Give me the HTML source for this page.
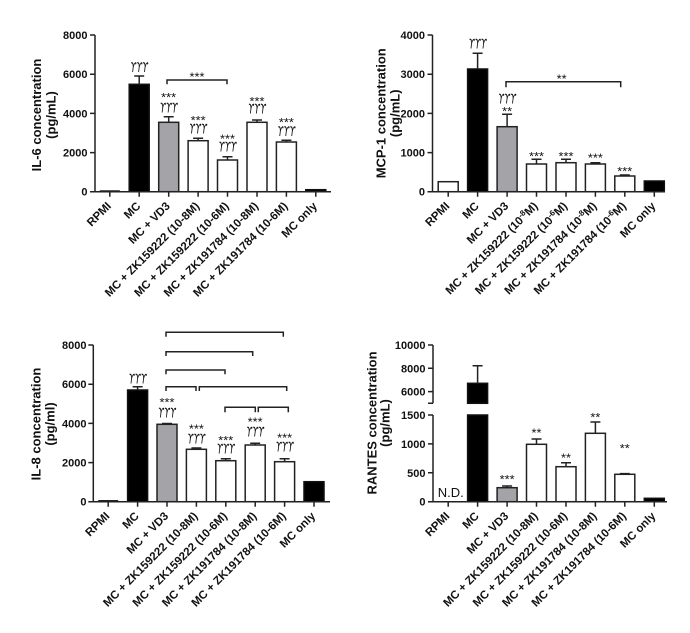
<!DOCTYPE html>
<html><head><meta charset="utf-8"><style>
html,body{margin:0;padding:0;background:#fff;}
svg{display:block;}
.t{font-family:"Liberation Sans",Arial,sans-serif;font-weight:bold;fill:#111;}
.tk{font-size:11px;text-anchor:end;}
.xl{font-size:11.5px;text-anchor:end;}
.yt{font-size:13px;text-anchor:middle;}
.ast{font-family:"Liberation Sans",Arial,sans-serif;font-size:12px;text-anchor:middle;fill:#111;}
.gm{font-family:"DejaVu Sans","Liberation Serif",serif;font-style:italic;font-size:13px;text-anchor:middle;fill:#111;}
.ln{stroke:#222;stroke-width:1.5;fill:none;}
.w{fill:#fff;stroke:#222;stroke-width:1.5;}
.k{fill:#000;stroke:#111;stroke-width:1.5;}
.g{fill:#a4a4a8;stroke:#222;stroke-width:1.5;}
</style></head><body>
<svg width="690" height="633" viewBox="0 0 690 633" xmlns="http://www.w3.org/2000/svg">
<rect width="690" height="633" fill="#fff"/>

<!-- ================= PANEL 1: IL-6 ================= -->
<g>
<rect class="k" x="129.2" y="84.3" width="20" height="107.4"/>
<rect class="g" x="158.7" y="122.3" width="20" height="69.4"/>
<rect class="w" x="188.1" y="140.7" width="20" height="51"/>
<rect class="w" x="217.5" y="160" width="20" height="31.7"/>
<rect class="w" x="247" y="122.3" width="20" height="69.4"/>
<rect class="w" x="276.4" y="142" width="20" height="49.7"/>
<rect class="k" x="305.8" y="189.7" width="20" height="2"/>
<line class="ln" x1="99.8" y1="191" x2="119.8" y2="191"/>
<path class="ln" d="M139.2 84.3V76M134.2 76H144.2 M168.7 122.3V116.7M163.7 116.7H173.7 M198.1 140.7V138.3M193.1 138.3H203.1 M227.5 160V156.7M222.5 156.7H232.5 M257 122.3V120M252 120H262 M286.4 142V140.3M281.4 140.3H291.4"/>
<path class="ln" d="M95 35V192.4 M94.3 191.7H331 M90 35H95 M90 74.2H95 M90 113.4H95 M90 152.6H95 M90 191.7H95 M109.8 191.7v5 M139.2 191.7v5 M168.7 191.7v5 M198.1 191.7v5 M227.5 191.7v5 M257 191.7v5 M286.4 191.7v5 M315.8 191.7v5"/>
<text class="t tk" x="87.5" y="39">8000</text>
<text class="t tk" x="87.5" y="78.2">6000</text>
<text class="t tk" x="87.5" y="117.4">4000</text>
<text class="t tk" x="87.5" y="156.6">2000</text>
<text class="t tk" x="87.5" y="195.7">0</text>
<text class="t yt" transform="translate(41,115) rotate(-90)">IL-6 concentration</text>
<text class="t yt" transform="translate(55.5,115) rotate(-90)">(pg/mL)</text>
<path class="ln" d="M167 84.3V80H227V84.3"/>
<text class="ast" x="197" y="81" textLength="15" lengthAdjust="spacingAndGlyphs">***</text>
<text class="gm" x="139.2" y="72" textLength="18" lengthAdjust="spacingAndGlyphs">ϒϒϒ</text>
<text class="ast" x="168.7" y="101.3" textLength="15" lengthAdjust="spacingAndGlyphs">***</text>
<text class="gm" x="168.7" y="112.3" textLength="18" lengthAdjust="spacingAndGlyphs">ϒϒϒ</text>
<text class="ast" x="198.1" y="124.7" textLength="15" lengthAdjust="spacingAndGlyphs">***</text>
<text class="gm" x="198.1" y="133.3" textLength="18" lengthAdjust="spacingAndGlyphs">ϒϒϒ</text>
<text class="ast" x="227.5" y="143" textLength="15" lengthAdjust="spacingAndGlyphs">***</text>
<text class="gm" x="227.5" y="151.7" textLength="18" lengthAdjust="spacingAndGlyphs">ϒϒϒ</text>
<text class="ast" x="257" y="105.3" textLength="15" lengthAdjust="spacingAndGlyphs">***</text>
<text class="gm" x="257" y="113.7" textLength="18" lengthAdjust="spacingAndGlyphs">ϒϒϒ</text>
<text class="ast" x="286.4" y="126.3" textLength="15" lengthAdjust="spacingAndGlyphs">***</text>
<text class="gm" x="286.4" y="136" textLength="18" lengthAdjust="spacingAndGlyphs">ϒϒϒ</text>
<text class="t xl" transform="translate(111.8,206.7) rotate(-45)">RPMI</text>
<text class="t xl" transform="translate(141.2,206.7) rotate(-45)">MC</text>
<text class="t xl" transform="translate(170.7,206.7) rotate(-45)">MC + VD3</text>
<text class="t xl" transform="translate(200.1,206.7) rotate(-45)">MC + ZK159222 (10-8M)</text>
<text class="t xl" transform="translate(229.5,206.7) rotate(-45)">MC + ZK159222 (10-6M)</text>
<text class="t xl" transform="translate(259,206.7) rotate(-45)">MC + ZK191784 (10-8M)</text>
<text class="t xl" transform="translate(288.4,206.7) rotate(-45)">MC + ZK191784 (10-6M)</text>
<text class="t xl" transform="translate(317.8,206.7) rotate(-45)">MC only</text>
</g>

<!-- ================= PANEL 2: MCP-1 ================= -->
<g>
<rect class="w" x="438.2" y="181.7" width="20" height="10"/>
<rect class="k" x="467.6" y="69" width="20" height="122.7"/>
<rect class="g" x="497.1" y="126.7" width="20" height="65"/>
<rect class="w" x="526.5" y="164" width="20" height="27.7"/>
<rect class="w" x="556" y="162.7" width="20" height="29"/>
<rect class="w" x="585.4" y="164" width="20" height="27.7"/>
<rect class="w" x="614.8" y="176" width="20" height="15.7"/>
<rect class="k" x="644.3" y="181" width="20" height="10.7"/>
<path class="ln" d="M477.6 69V53.3M472.6 53.3H482.6 M507.1 126.7V114.3M502.1 114.3H512.1 M536.5 164V159.3M531.5 159.3H541.5 M566 162.7V159.3M561 159.3H571 M595.4 164V162.7M590.4 162.7H600.4 M624.8 176V175M619.8 175H629.8"/>
<path class="ln" d="M432.5 35V192.4 M431.8 191.7H665 M427.5 35H432.5 M427.5 74.2H432.5 M427.5 113.4H432.5 M427.5 152.6H432.5 M427.5 191.7H432.5 M448.2 191.7v5 M477.6 191.7v5 M507.1 191.7v5 M536.5 191.7v5 M566 191.7v5 M595.4 191.7v5 M624.8 191.7v5 M654.3 191.7v5"/>
<text class="t tk" x="425" y="39">4000</text>
<text class="t tk" x="425" y="78.2">3000</text>
<text class="t tk" x="425" y="117.4">2000</text>
<text class="t tk" x="425" y="156.6">1000</text>
<text class="t tk" x="425" y="195.7">0</text>
<text class="t yt" transform="translate(385.5,113.3) rotate(-90)">MCP-1 concentration</text>
<text class="t yt" transform="translate(399.5,113.3) rotate(-90)">(pg/mL)</text>
<path class="ln" d="M506 87.3V81.7H620.7V87.3"/>
<text class="ast" x="561.7" y="83" textLength="10" lengthAdjust="spacingAndGlyphs">**</text>
<text class="gm" x="477.6" y="48.3" textLength="18" lengthAdjust="spacingAndGlyphs">ϒϒϒ</text>
<text class="gm" x="507.1" y="103.3" textLength="18" lengthAdjust="spacingAndGlyphs">ϒϒϒ</text>
<text class="ast" x="507.1" y="115.3" textLength="10" lengthAdjust="spacingAndGlyphs">**</text>
<text class="ast" x="536.5" y="160.3" textLength="15" lengthAdjust="spacingAndGlyphs">***</text>
<text class="ast" x="566" y="160.3" textLength="15" lengthAdjust="spacingAndGlyphs">***</text>
<text class="ast" x="595.4" y="162" textLength="15" lengthAdjust="spacingAndGlyphs">***</text>
<text class="ast" x="624.8" y="175.3" textLength="15" lengthAdjust="spacingAndGlyphs">***</text>
<text class="t xl" transform="translate(450.2,206.7) rotate(-45)">RPMI</text>
<text class="t xl" transform="translate(479.6,206.7) rotate(-45)">MC</text>
<text class="t xl" transform="translate(509.1,206.7) rotate(-45)">MC + VD3</text>
<text class="t xl" transform="translate(538.5,206.7) rotate(-45)">MC + ZK159222 (10<tspan dy="-4" font-size="8">-8</tspan><tspan dy="4">M)</tspan></text>
<text class="t xl" transform="translate(568,206.7) rotate(-45)">MC + ZK159222 (10<tspan dy="-4" font-size="8">-6</tspan><tspan dy="4">M)</tspan></text>
<text class="t xl" transform="translate(597.4,206.7) rotate(-45)">MC + ZK191784 (10<tspan dy="-4" font-size="8">-8</tspan><tspan dy="4">M)</tspan></text>
<text class="t xl" transform="translate(626.8,206.7) rotate(-45)">MC + ZK191784 (10<tspan dy="-4" font-size="8">-6</tspan><tspan dy="4">M)</tspan></text>
<text class="t xl" transform="translate(656.3,206.7) rotate(-45)">MC only</text>
</g>

<!-- ================= PANEL 3: IL-8 ================= -->
<g>
<rect class="k" x="127.6" y="390" width="20" height="111.7"/>
<rect class="g" x="157" y="424.3" width="20" height="77.4"/>
<rect class="w" x="186.4" y="449.3" width="20" height="52.4"/>
<rect class="w" x="215.8" y="460.7" width="20" height="41"/>
<rect class="w" x="245.2" y="445" width="20" height="56.7"/>
<rect class="w" x="274.6" y="461.7" width="20" height="40"/>
<rect class="k" x="304" y="481.7" width="20" height="20"/>
<line class="ln" x1="98.2" y1="500.8" x2="118.2" y2="500.8"/>
<path class="ln" d="M137.6 390V386.7M132.6 386.7H142.6 M167 424.3V423.5M162 423.5H172 M196.4 449.3V448M191.4 448H201.4 M225.8 460.7V458.7M220.8 458.7H230.8 M255.2 445V443.3M250.2 443.3H260.2 M284.6 461.7V458.7M279.6 458.7H289.6"/>
<path class="ln" d="M93.3 345V502.4 M92.6 501.7H330 M88.3 345H93.3 M88.3 384.2H93.3 M88.3 423.4H93.3 M88.3 462.6H93.3 M88.3 501.7H93.3 M108.2 501.7v5 M137.6 501.7v5 M167 501.7v5 M196.4 501.7v5 M225.8 501.7v5 M255.2 501.7v5 M284.6 501.7v5 M314 501.7v5"/>
<text class="t tk" x="86.5" y="349">8000</text>
<text class="t tk" x="86.5" y="388.2">6000</text>
<text class="t tk" x="86.5" y="427.4">4000</text>
<text class="t tk" x="86.5" y="466.6">2000</text>
<text class="t tk" x="86.5" y="505.7">0</text>
<text class="t yt" transform="translate(40.5,424) rotate(-90)">IL-8 concentration</text>
<text class="t yt" transform="translate(54.5,424) rotate(-90)">(pg/ml)</text>
<path class="ln" d="M166 336.7V332.3H283.3V336.7 M166 356V351.7H252.7V356 M166 374.3V370H225V374.3 M166 391V386.7H196V391 M199.3 391V386.7H286.7V391 M225 412.3V407.3H255.3V412.3 M258.3 412.3V407.3H288.3V412.3"/>
<text class="gm" x="137.6" y="383.3" textLength="18" lengthAdjust="spacingAndGlyphs">ϒϒϒ</text>
<text class="ast" x="167" y="406.3" textLength="15" lengthAdjust="spacingAndGlyphs">***</text>
<text class="gm" x="167" y="417.7" textLength="18" lengthAdjust="spacingAndGlyphs">ϒϒϒ</text>
<text class="ast" x="196.4" y="433" textLength="15" lengthAdjust="spacingAndGlyphs">***</text>
<text class="gm" x="196.4" y="443.3" textLength="18" lengthAdjust="spacingAndGlyphs">ϒϒϒ</text>
<text class="ast" x="225.8" y="444.3" textLength="15" lengthAdjust="spacingAndGlyphs">***</text>
<text class="gm" x="225.8" y="453.3" textLength="18" lengthAdjust="spacingAndGlyphs">ϒϒϒ</text>
<text class="ast" x="255.2" y="426" textLength="15" lengthAdjust="spacingAndGlyphs">***</text>
<text class="gm" x="255.2" y="436.7" textLength="18" lengthAdjust="spacingAndGlyphs">ϒϒϒ</text>
<text class="ast" x="284.6" y="442" textLength="15" lengthAdjust="spacingAndGlyphs">***</text>
<text class="gm" x="284.6" y="451.7" textLength="18" lengthAdjust="spacingAndGlyphs">ϒϒϒ</text>
<text class="t xl" transform="translate(110.2,516.7) rotate(-45)">RPMI</text>
<text class="t xl" transform="translate(139.6,516.7) rotate(-45)">MC</text>
<text class="t xl" transform="translate(169,516.7) rotate(-45)">MC + VD3</text>
<text class="t xl" transform="translate(198.4,516.7) rotate(-45)">MC + ZK159222 (10-8M)</text>
<text class="t xl" transform="translate(227.8,516.7) rotate(-45)">MC + ZK159222 (10-6M)</text>
<text class="t xl" transform="translate(257.2,516.7) rotate(-45)">MC + ZK191784 (10-8M)</text>
<text class="t xl" transform="translate(286.6,516.7) rotate(-45)">MC + ZK191784 (10-6M)</text>
<text class="t xl" transform="translate(316,516.7) rotate(-45)">MC only</text>
</g>

<!-- ================= PANEL 4: RANTES ================= -->
<g>
<rect class="k" x="467.6" y="415" width="20" height="86.7"/>
<rect class="k" x="467.6" y="383.3" width="20" height="20"/>
<rect class="g" x="497.1" y="487.7" width="20" height="14"/>
<rect class="w" x="526.5" y="444.3" width="20" height="57.4"/>
<rect class="w" x="556" y="466.7" width="20" height="35"/>
<rect class="w" x="585.4" y="433.3" width="20" height="68.4"/>
<rect class="w" x="614.8" y="474.3" width="20" height="27.4"/>
<rect class="k" x="644.3" y="498.3" width="20" height="3.4"/>
<path class="ln" d="M477.6 383.3V365.7M472.6 365.7H482.6 M507.1 487.7V486M502.1 486H512.1 M536.5 444.3V439M531.5 439H541.5 M566 466.7V462.7M561 462.7H571 M595.4 433.3V422M590.4 422H600.4 M624.8 474.3V473.6M619.8 473.6H629.8"/>
<path class="ln" d="M433 345V403.3 M433 415V502.4 M432.3 501.7H667 M428 345H433 M428 368.3H433 M428 391.6H433 M428 403.3H433 M428 415H433 M428 443.9H433 M428 472.8H433 M428 501.7H433 M448.2 501.7v5 M477.6 501.7v5 M507.1 501.7v5 M536.5 501.7v5 M566 501.7v5 M595.4 501.7v5 M624.8 501.7v5 M654.3 501.7v5"/>
<text class="t tk" x="425.5" y="349">10000</text>
<text class="t tk" x="425.5" y="372.3">8000</text>
<text class="t tk" x="425.5" y="395.6">6000</text>
<text class="t tk" x="425.5" y="419">1500</text>
<text class="t tk" x="425.5" y="447.9">1000</text>
<text class="t tk" x="425.5" y="476.8">500</text>
<text class="t tk" x="425.5" y="505.7">0</text>
<text class="t yt" transform="translate(376.5,423) rotate(-90)">RANTES concentration</text>
<text class="t yt" transform="translate(389.5,423) rotate(-90)">(pg/mL)</text>
<text x="437.7" y="497" font-family="Liberation Sans, Arial, sans-serif" font-size="13" fill="#111">N.D.</text>
<text class="ast" x="507.1" y="483.7" textLength="15" lengthAdjust="spacingAndGlyphs">***</text>
<text class="ast" x="536.5" y="437" textLength="10" lengthAdjust="spacingAndGlyphs">**</text>
<text class="ast" x="566" y="462" textLength="10" lengthAdjust="spacingAndGlyphs">**</text>
<text class="ast" x="595.4" y="421.3" textLength="10" lengthAdjust="spacingAndGlyphs">**</text>
<text class="ast" x="624.8" y="452.7" textLength="10" lengthAdjust="spacingAndGlyphs">**</text>
<text class="t xl" transform="translate(450.2,516.7) rotate(-45)">RPMI</text>
<text class="t xl" transform="translate(479.6,516.7) rotate(-45)">MC</text>
<text class="t xl" transform="translate(509.1,516.7) rotate(-45)">MC + VD3</text>
<text class="t xl" transform="translate(538.5,516.7) rotate(-45)">MC + ZK159222 (10-8M)</text>
<text class="t xl" transform="translate(568,516.7) rotate(-45)">MC + ZK159222 (10-6M)</text>
<text class="t xl" transform="translate(597.4,516.7) rotate(-45)">MC + ZK191784 (10-8M)</text>
<text class="t xl" transform="translate(626.8,516.7) rotate(-45)">MC + ZK191784 (10-6M)</text>
<text class="t xl" transform="translate(656.3,516.7) rotate(-45)">MC only</text>
</g>
</svg>
</body></html>
